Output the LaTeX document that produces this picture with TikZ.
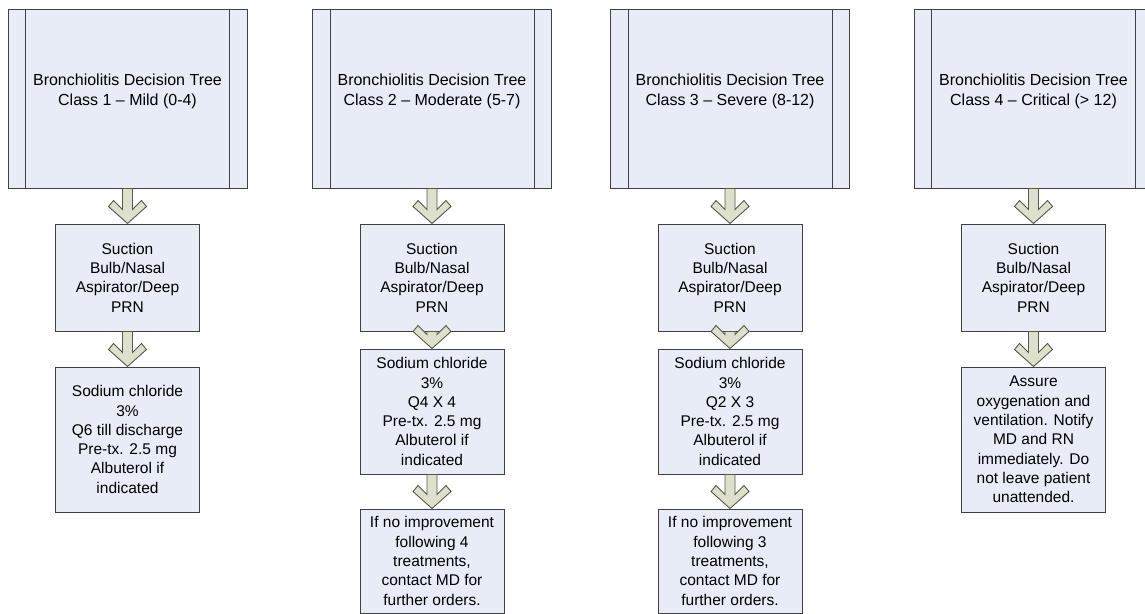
\documentclass[tikz,border=0pt]{standalone}
\usepackage{fontspec}
\setmainfont{Liberation Sans}
\usetikzlibrary{calc}
\definecolor{btink}{HTML}{404040}
\definecolor{btfill}{HTML}{E7ECF6}
\definecolor{btolive}{HTML}{DDE0CA}
\definecolor{btoliveline}{HTML}{55584A}
\tikzset{
  bt text/.style={font=\fontsize{15.5pt}{19.3pt}\selectfont, text=black},
  bt title/.style={font=\fontsize{16pt}{19.3pt}\selectfont, text=black, align=center},
  bt head/.style={draw=btink, line width=1pt, fill=btfill, minimum width=239pt,
    minimum height=179pt, inner sep=0pt},
  bt box/.style={draw=btink, line width=1pt, fill=btfill, minimum width=144pt,
    align=center, inner sep=0pt, bt text},
  bt strip/.style={draw=btink, line width=1pt},
  bt arrow/.style={draw=btoliveline, fill=btolive, line width=0.9pt, line join=miter}
}

\begin{document}
\begin{tikzpicture}[x=1pt, y=-1pt]
  \fill[white] (0,0) rectangle (1145,613);
  \useasboundingbox (0,0) rectangle (1145,613);
  \clip (0,0) rectangle (1145,613);
  % class headers and suction step
  \foreach \i/\x/\cls in {1/127.5/Class 1 – Mild (0-4),2/432/Class 2 – Moderate (5-7),
      3/730/Class 3 – Severe (8-12),4/1033.5/Class 4 – Critical (> 12)} {
    \node[bt head, label={[bt title, yshift=7pt]center:{Bronchiolitis Decision Tree\\\cls}}]
      (head\i) at (\x,98.5) {};
    \draw[bt strip] ([xshift=18pt]head\i.north west) -- ([xshift=18pt]head\i.south west);
    \draw[bt strip] ([xshift=-18pt]head\i.north east) -- ([xshift=-18pt]head\i.south east);
    \node[bt box, minimum height=107pt] (suction\i) at (\x,277.5)
      {Suction\\Bulb/Nasal\\Aspirator/Deep\\PRN};
  }
  \node[bt box, minimum height=145pt] (saline1) at (127.5,439.5)
    {Sodium chloride\\3\%\\Q6 till discharge\\Pre-tx. 2.5 mg\\Albuterol if\\indicated};
  \node[bt box, minimum height=125pt] (saline2) at (432,411.5)
    {Sodium chloride\\3\%\\Q4 X 4\\Pre-tx. 2.5 mg\\Albuterol if\\indicated};
  \node[bt box, minimum height=125pt] (saline3) at (730,411.5)
    {Sodium chloride\\3\%\\Q2 X 3\\Pre-tx. 2.5 mg\\Albuterol if\\indicated};
  \node[bt box, minimum height=104pt] (followup2) at (432,561)
    {If no improvement\\following 4\\treatments,\\contact MD for\\further orders.};
  \node[bt box, minimum height=104pt] (followup3) at (730,561)
    {If no improvement\\following 3\\treatments,\\contact MD for\\further orders.};
  \node[bt box, minimum height=145pt] (assure4) at (1033.5,439.5)
    {Assure\\oxygenation and\\ventilation.\ \hspace{0.1em}Notify\\MD and RN\\immediately.\ \hspace{0.1em}Do\\not leave patient\\unattended.};
  % block arrows
  \foreach \a/\b in {head1/suction1,head2/suction2,head3/suction3,head4/suction4,
      suction1/saline1,suction2/saline2,suction3/saline3,suction4/assure4,
      saline2/followup2,saline3/followup3} {
    \filldraw[bt arrow] ([xshift=-5pt]\a.south) -- ([shift={(-5pt,14pt)}]\b.north)
      -- ([shift={(-14pt,23pt)}]\b.north) -- ([shift={(-19pt,17pt)}]\b.north)
      -- (\b.north) -- ([shift={(19pt,17pt)}]\b.north) -- ([shift={(14pt,23pt)}]\b.north)
      -- ([shift={(5pt,14pt)}]\b.north) -- ([xshift=5pt]\a.south) -- cycle;
  }
\end{tikzpicture}
\end{document}
